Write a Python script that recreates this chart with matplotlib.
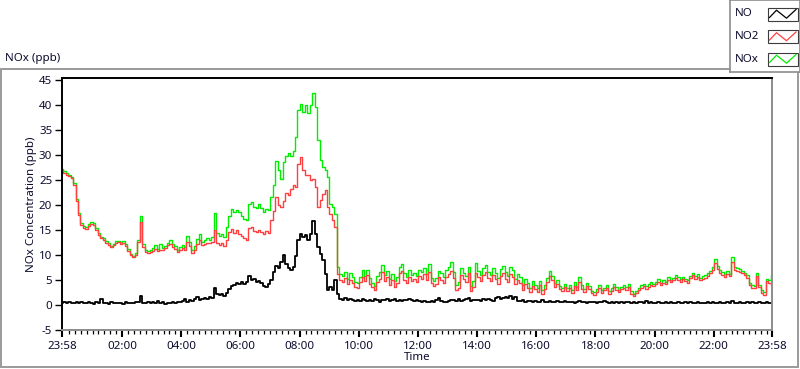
import matplotlib
matplotlib.use("Agg")
import matplotlib.pyplot as plt
import numpy as np
from matplotlib.patches import Rectangle

plt.rcParams["font.family"] = ["Noto Sans", "DejaVu Sans"]

# sample times: minutes after midnight, every 5 min from 23:58 (prev day) to 23:58
START_MIN, END_MIN, STEP_MIN = -2, 1438, 5

TICK_POS = [-2, 120, 240, 360, 480, 600, 720, 840, 960, 1080, 1200, 1320, 1438]
TICK_LABELS = ["23:58", "02:00", "04:00", "06:00", "08:00", "10:00", "12:00",
               "14:00", "16:00", "18:00", "20:00", "22:00", "23:58"]
Y_TICKS = [-5, 0, 5, 10, 15, 20, 25, 30, 35, 40, 45]

# one row per hour (12 samples), last single value = 23:58
NO2_PPB = [
    27.0, 26.4, 26.0, 25.7, 25.3, 24.0, 20.8, 18.0, 16.0, 15.4, 15.2, 15.8,
    16.2, 16.0, 15.0, 13.9, 13.3, 13.0, 12.4, 12.0, 11.5, 11.9, 12.3, 12.5,
    12.2, 12.4, 11.8, 10.8, 9.9, 9.5, 9.9, 12.5, 16.5, 11.5, 10.6, 10.3,
    10.5, 10.8, 11.2, 10.7, 11.0, 10.9, 11.3, 11.9, 12.2, 11.6, 11.2, 10.5,
    11.0, 11.3, 10.9, 12.6, 11.8, 10.4, 11.0, 12.2, 12.9, 11.9, 12.2, 12.4,
    12.3, 12.5, 15.0, 12.4, 12.0, 12.3, 11.7, 13.0, 14.6, 15.2, 14.3, 14.9,
    14.2, 13.8, 13.3, 13.0, 15.3, 15.6, 14.8, 14.5, 15.0, 14.6, 14.2, 14.8,
    14.3, 17.0, 18.8, 21.5, 20.0, 19.6, 20.8, 22.3, 22.0, 23.2, 24.0, 23.5,
    28.2, 29.5, 26.9, 25.9, 26.0, 24.9, 25.2, 23.5, 19.5, 20.9, 22.2, 22.9,
    19.5, 18.2, 16.9, 15.5, 6.2, 4.9, 4.6, 5.4, 4.1, 5.0, 4.4, 3.6,
    3.4, 4.5, 5.6, 4.8, 5.9, 4.2, 3.5, 2.9, 4.6, 5.2, 6.5, 4.8,
    5.5, 4.0, 4.9, 3.6, 4.4, 6.3, 6.8, 5.0, 4.4, 5.6, 4.8, 5.2,
    4.6, 5.8, 5.2, 6.1, 5.0, 6.5, 4.3, 3.7, 4.2, 5.6, 5.0, 4.4,
    5.6, 6.2, 6.8, 5.4, 3.0, 3.4, 6.0, 5.2, 4.6, 6.4, 2.8, 3.6,
    6.4, 5.5, 4.7, 5.9, 6.5, 5.3, 4.8, 6.0, 5.1, 4.2, 5.8, 6.4,
    5.2, 4.6, 6.1, 5.5, 4.1, 5.0, 4.4, 3.0, 4.1, 3.4, 2.5, 3.8,
    3.2, 2.6, 3.9, 2.2, 3.1, 4.5, 5.7, 4.9, 3.6, 4.2, 3.1, 2.7,
    3.5, 2.8, 3.3, 2.4, 3.8, 3.0, 4.6, 3.2, 2.6, 3.7, 3.1, 2.3,
    2.0, 2.6, 3.3, 2.4, 2.9, 3.4, 2.2, 2.8, 3.6, 3.0, 2.5, 3.1,
    3.4, 3.0, 3.6, 2.2, 1.8, 2.3, 2.9, 3.4, 3.7, 3.2, 3.6, 4.0,
    3.7, 4.1, 4.6, 3.9, 4.4, 4.1, 5.0, 4.5, 4.9, 5.4, 5.0, 4.6,
    5.1, 4.7, 4.4, 5.3, 5.9, 5.2, 5.6, 4.9, 5.2, 5.4, 5.8, 6.3,
    7.0, 8.4, 7.2, 6.4, 6.0, 5.6, 6.2, 5.7, 8.5, 7.0, 6.8, 6.6,
    6.3, 5.9, 5.4, 3.9, 3.4, 3.3, 5.8, 3.5, 2.4, 2.0, 4.7, 4.4,
    4.0,
]

NOX_PPB = [
    27.2, 26.7, 26.4, 26.0, 25.6, 24.3, 21.1, 18.3, 16.4, 15.7, 15.6, 16.2,
    16.6, 16.4, 15.4, 14.3, 13.6, 13.3, 12.7, 12.3, 11.8, 12.2, 12.7, 12.8,
    12.5, 12.8, 12.2, 11.1, 10.2, 9.8, 10.3, 13.0, 17.8, 12.2, 11.0, 10.7,
    11.0, 11.3, 12.0, 11.1, 12.2, 11.4, 11.8, 12.3, 12.9, 12.1, 11.7, 11.0,
    11.5, 12.0, 11.5, 13.8, 12.5, 11.0, 11.8, 13.2, 14.2, 12.6, 13.0, 13.3,
    13.0, 13.6, 18.3, 14.4, 13.8, 14.2, 13.6, 15.5, 17.8, 19.2, 18.5, 19.0,
    18.5, 17.8, 17.2, 17.0, 20.2, 20.5, 19.6, 19.4, 20.1, 19.3, 18.6, 19.2,
    19.0, 21.5, 24.0, 28.8, 27.0, 25.2, 28.6, 29.8, 30.4, 29.7, 30.8, 33.5,
    38.9, 40.2, 38.5, 39.9, 38.3, 40.0, 42.4, 39.5, 32.9, 28.9, 27.5, 26.9,
    25.5, 20.2, 19.5, 18.2, 7.5, 6.2, 5.8, 6.6, 5.2, 6.4, 5.6, 4.6,
    4.4, 5.6, 6.9, 5.8, 7.0, 5.3, 4.4, 3.8, 5.7, 6.5, 8.0, 6.0,
    6.8, 5.2, 6.1, 4.7, 5.6, 7.5, 8.2, 6.3, 5.6, 6.9, 6.0, 6.4,
    5.8, 7.0, 6.5, 7.4, 6.2, 8.2, 5.4, 4.7, 5.3, 6.8, 6.3, 5.6,
    6.9, 7.5, 8.5, 6.6, 4.0, 4.5, 7.3, 6.4, 5.7, 7.6, 3.8, 4.7,
    8.3, 6.8, 5.9, 7.3, 7.9, 6.5, 6.0, 7.4, 6.3, 5.3, 7.2, 7.8,
    6.5, 5.8, 7.6, 6.9, 5.2, 6.2, 5.5, 4.0, 5.1, 4.3, 3.3, 4.7,
    4.0, 3.4, 4.8, 2.9, 3.9, 5.4, 6.7, 5.8, 4.4, 5.0, 3.8, 3.4,
    4.2, 3.4, 4.0, 3.0, 4.5, 3.6, 5.5, 3.9, 3.2, 4.4, 3.7, 2.8,
    2.5, 3.1, 3.9, 2.9, 3.4, 4.0, 2.7, 3.3, 4.2, 3.5, 3.0, 3.6,
    3.9, 3.5, 4.2, 2.7, 2.2, 2.8, 3.4, 3.9, 4.2, 3.7, 4.1, 4.5,
    4.2, 4.6, 5.2, 4.4, 4.9, 4.6, 5.5, 5.0, 5.4, 5.9, 5.5, 5.1,
    5.6, 5.2, 4.9, 5.8, 6.4, 5.7, 6.1, 5.4, 5.7, 5.9, 6.3, 6.8,
    7.6, 9.2, 7.8, 6.9, 6.5, 6.1, 6.7, 6.2, 9.5, 7.6, 7.3, 7.1,
    6.8, 6.4, 5.9, 4.4, 3.9, 3.8, 6.3, 4.0, 2.9, 2.5, 5.2, 4.9,
    6.0,
]

NO_PPB = [
    0.3, 0.5, 0.4, 0.6, 0.3, 0.4, 0.5, 0.3, 0.6, 0.4, 0.3, 0.5,
    0.4, 0.2, 0.5, 0.3, 1.1, 0.3, 0.4, 0.2, 0.5, 0.3, 0.4, 0.3,
    0.4, 0.2, 0.5, 0.3, 0.4, 0.3, 0.5, 0.6, 1.8, 0.4, 0.3, 0.5,
    0.3, 0.6, 0.4, 0.7, 0.3, 0.5, 0.2, 0.4, 0.3, 0.5, 0.4, 0.6,
    0.5, 0.7, 1.2, 0.6, 0.9, 0.7, 1.1, 1.5, 0.9, 1.1, 1.4, 1.2,
    1.5, 1.4, 3.4, 2.2, 2.0, 2.1, 1.8, 2.4, 3.2, 3.8, 4.0, 4.3,
    4.1, 4.5, 4.2, 4.6, 5.8, 4.9, 5.2, 4.5, 4.7, 4.3, 3.8, 3.6,
    4.2, 5.0, 6.5, 7.8, 7.4, 8.6, 10.0, 8.2, 7.3, 7.0, 7.6, 9.8,
    12.9, 14.2, 13.5, 13.9, 12.9, 14.2, 16.7, 14.2, 11.5, 10.2, 8.9, 6.2,
    2.9, 3.5, 2.9, 4.9, 2.2, 1.2, 1.0, 1.3, 0.9, 1.1, 1.0, 0.8,
    1.0, 0.8, 1.2, 0.9, 0.7, 1.0, 0.8, 1.1, 0.9, 0.6, 0.9, 1.0,
    1.1, 0.8, 1.0, 1.2, 0.8, 0.9, 0.7, 1.0, 0.9, 1.1, 1.0, 0.8,
    0.9, 0.7, 0.6, 0.8, 0.5, 0.6, 0.7, 0.6, 0.9, 1.3, 0.8, 0.5,
    0.6, 0.7, 0.9, 1.0, 0.8, 1.2, 0.7, 0.9, 1.1, 1.3, 0.8, 1.0,
    0.9, 1.0, 0.8, 1.1, 0.9, 1.2, 1.0, 0.8, 1.3, 1.5, 1.2, 1.4,
    1.6, 1.3, 1.8, 1.2, 1.5, 0.8, 0.7, 0.9, 0.6, 0.8, 0.7, 0.5,
    0.7, 0.5, 0.6, 0.9, 0.6, 0.5, 0.7, 0.6, 0.5, 0.8, 0.6, 0.5,
    0.7, 0.6, 0.5, 0.6, 0.4, 0.6, 0.7, 0.5, 0.6, 0.4, 0.5, 0.6,
    0.5, 0.4, 0.6, 0.5, 0.7, 0.5, 0.4, 0.6, 0.3, 0.5, 0.4, 0.5,
    0.4, 0.6, 0.5, 0.3, 0.5, 0.4, 0.6, 0.5, 0.4, 0.7, 0.4, 0.5,
    0.4, 0.3, 0.5, 0.4, 0.3, 0.5, 0.4, 0.6, 0.4, 0.3, 0.5, 0.4,
    0.3, 0.5, 0.4, 0.6, 0.4, 0.3, 0.5, 0.4, 0.3, 0.4, 0.6, 0.4,
    0.5, 0.3, 0.4, 0.6, 0.4, 0.3, 0.5, 0.4, 0.7, 0.3, 0.4, 0.5,
    0.4, 0.3, 0.5, 0.4, 0.6, 0.3, 0.4, 0.5, 0.3, 0.4, 0.5, 0.4,
    0.4,
]

SERIES = ["NO", "NO2", "NOx"]
COLORS = {"NO": "#000000", "NO2": "#ff4040", "NOx": "#00ee00"}
TEXT = "#0b0b2e"
W, H = 800, 369

times = np.arange(START_MIN, END_MIN + 1, STEP_MIN)

fig = plt.figure(figsize=(W / 100, H / 100), dpi=100)
fig.patch.set_facecolor("white")

# pixel-space background layer: outer frame + chart title
bg = fig.add_axes([0, 0, 1, 1], zorder=0)
bg.set_xlim(0, W)
bg.set_ylim(H, 0)
bg.axis("off")
bg.add_patch(Rectangle((1, 69), 797, 298, fill=False, edgecolor="#9a9a9a", linewidth=1.4))
bg.text(5, 58, "NOx (ppb)", fontsize=8.3, color=TEXT, va="center", ha="left")

ax = fig.add_axes([62 / W, 1 - 330 / H, 710 / W, 252 / H], zorder=2)
# stepped traces, like the instrument's sampled display
ax.plot(times, NOX_PPB, color=COLORS["NOx"], linewidth=1.0, drawstyle="steps-mid")
ax.plot(times, NO2_PPB, color=COLORS["NO2"], linewidth=1.0, drawstyle="steps-mid")
ax.plot(times, NO_PPB, color=COLORS["NO"], linewidth=1.3, drawstyle="steps-mid")

ax.set_xlim(START_MIN, END_MIN)
ax.set_ylim(-5, 45.3)
ax.set_xticks(TICK_POS)
ax.set_xticklabels(TICK_LABELS)
ax.set_xticks([m for m in range(12, END_MIN, 12)], minor=True)
ax.set_yticks(Y_TICKS)
ax.set_yticklabels([str(v) for v in Y_TICKS])

ax.tick_params(axis="both", which="major", direction="out", length=5, width=1.0,
               colors="#000000", labelcolor=TEXT, labelsize=8.3)
ax.tick_params(axis="x", which="major", width=1.5, pad=3)
ax.tick_params(axis="x", which="minor", direction="out", length=3, width=0.9, color="#000000")
ax.tick_params(axis="y", pad=2)

for side in ("top", "left"):
    ax.spines[side].set_color("#000000")
    ax.spines[side].set_linewidth(1.4)
for side in ("bottom", "right"):
    ax.spines[side].set_color("#8c8c8c")
    ax.spines[side].set_linewidth(1.4)

ax.set_ylabel("NOx Concentration (ppb)", fontsize=8.3, color=TEXT)
ax.yaxis.set_label_coords(-0.035, 0.5)
ax.set_xlabel("Time", fontsize=8.3, color=TEXT)
ax.xaxis.set_label_coords(0.5, -0.088)

# legend box in the top-right corner, drawn in pixel units
lg = fig.add_axes([730 / W, 1 - 72 / H, 70 / W, 72 / H], zorder=3)
lg.set_xlim(0, 70)
lg.set_ylim(72, 0)
lg.set_xticks([])
lg.set_yticks([])
lg.set_facecolor("white")
for side in lg.spines.values():
    side.set_color("#8c8c8c")
    side.set_linewidth(1.2)

zig_x = [39.5, 46.5, 56.5, 66.0]
zig_dy = [3.5, -3.8, 4.2, -4.5]
for i, name in enumerate(SERIES):
    cy = 14 + i * 22.5
    lg.text(5, cy, name, fontsize=8.3, color=TEXT, va="center", ha="left")
    lg.add_patch(Rectangle((37.5, cy - 6.5), 30, 13, fill=False,
                           edgecolor="#3c3c3c", linewidth=0.8))
    lg.plot(zig_x, [cy + d for d in zig_dy], color=COLORS[name], linewidth=0.9)

fig.savefig("out.png", dpi=100)
